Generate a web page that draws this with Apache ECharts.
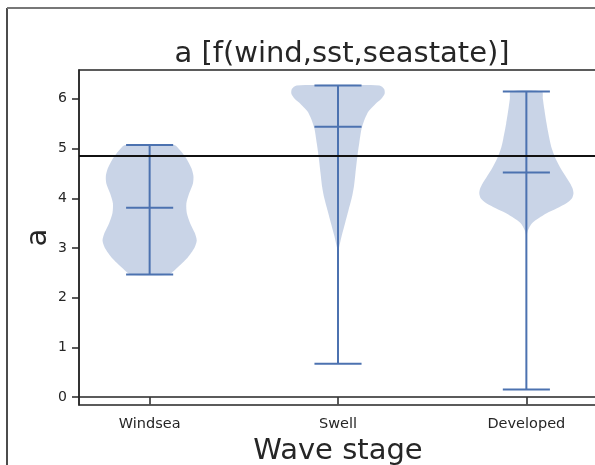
<!DOCTYPE html>
<html>
<head>
<meta charset="utf-8">
<script src="https://cdn.jsdelivr.net/npm/echarts@6/dist/echarts.min.js"></script>
<style>html,body{margin:0;padding:0;background:#fff}#c{width:595px;height:465px}</style>
</head>
<body>
<div id="c"></div>
<script>
// ---- data ----
const categories = ['Windsea', 'Swell', 'Developed'];
const positions = [1, 2, 3];
const mins = [2.47, 0.675, 0.155];
const maxs = [5.07, 6.27, 6.15];
const means = [3.81, 5.44, 4.52];
const refLine = 4.85;
const yTicks = [0, 1, 2, 3, 4, 5, 6];
// density profiles: [value, relative half-width]
const windseaDensity = [[2.47,0.40],[2.6,0.58],[2.8,0.80],[3.0,0.95],[3.15,1.0],[3.3,0.96],[3.5,0.86],[3.7,0.79],[3.9,0.78],[4.1,0.84],[4.3,0.92],[4.45,0.93],[4.6,0.89],[4.8,0.78],[4.95,0.66],[5.07,0.52]];
const swellDensity = [[0.675,0.0],[2.9,0.0],[3.0,0.02],[3.25,0.08],[3.5,0.15],[3.75,0.22],[4.0,0.29],[4.25,0.34],[4.5,0.37],[4.83,0.41],[5.1,0.45],[5.4,0.50],[5.6,0.57],[5.75,0.65],[5.9,0.80],[6.0,0.92],[6.1,0.99],[6.2,0.98],[6.27,0.88]];
const developedDensity = [[0.155,0.0],[3.2,0.0],[3.35,0.03],[3.5,0.12],[3.6,0.26],[3.7,0.43],[3.8,0.65],[3.9,0.85],[4.0,0.97],[4.1,1.0],[4.2,0.98],[4.3,0.93],[4.45,0.83],[4.6,0.73],[4.8,0.62],[5.0,0.54],[5.2,0.49],[5.5,0.43],[5.8,0.38],[6.0,0.35],[6.15,0.33]];
const densities = [windseaDensity, swellDensity, developedDensity];

const violinWidth = 0.5;
const lineColor = '#4c72b0';
const txt = '#262626';
const FONT = 'DejaVu Sans';

const chart = echarts.init(document.getElementById('c'), null, {renderer: 'canvas'});

function bodyRender(params, api) {
  const i = params.dataIndex;
  const pos = positions[i];
  const d = densities[i];
  const right = d.map(p => api.coord([pos + p[1] * violinWidth / 2, p[0]]));
  const left = d.slice().reverse().map(p => api.coord([pos - p[1] * violinWidth / 2, p[0]]));
  return {
    type: 'polygon',
    shape: {points: right.concat(left), smooth: 0.25},
    style: {fill: 'rgba(76,114,176,0.3)', stroke: 'none'}
  };
}

function linesRender(params, api) {
  const i = params.dataIndex;
  const pos = positions[i];
  const half = violinWidth / 4;
  const seg = (x1, y1, x2, y2) => {
    const a = api.coord([x1, y1]), b = api.coord([x2, y2]);
    return {type: 'line', shape: {x1: a[0], y1: a[1], x2: b[0], y2: b[1]},
      style: {stroke: lineColor, lineWidth: 2}};
  };
  return {type: 'group', children: [
    seg(pos, mins[i], pos, maxs[i]),
    seg(pos - half, mins[i], pos + half, mins[i]),
    seg(pos - half, maxs[i], pos + half, maxs[i]),
    seg(pos - half, means[i], pos + half, means[i])
  ]};
}

const option = {
  animation: false,
  title: {
    text: 'a [f(wind,sst,seastate)]',
    left: 337, top: 35, textAlign: 'center',
    textStyle: {fontFamily: FONT, fontSize: 29, fontWeight: 'normal', color: txt}
  },
  grid: {left: 79, top: 70, width: 518, height: 335, show: true, containLabel: false,
    outerBoundsMode: 'none',
    borderColor: txt, borderWidth: 1.5, backgroundColor: '#fff'},
  xAxis: {
    type: 'value', min: 0.625, max: 3.375,
    name: 'Wave stage', nameLocation: 'middle', nameGap: 32, nameMoveOverlap: false,
    nameTextStyle: {fontFamily: FONT, fontSize: 29, color: txt},
    axisLine: {show: true, lineStyle: {color: txt, width: 1.5}},
    axisTick: {show: true, length: 7, lineStyle: {color: txt, width: 1.5}, customValues: positions},
    axisLabel: {customValues: positions, margin: 12, fontFamily: FONT, fontSize: 14.5, color: txt,
      formatter: v => categories[Math.round(v) - 1]},
    splitLine: {show: false}
  },
  yAxis: {
    type: 'value', min: -0.156, max: 6.58,
    name: 'a', nameLocation: 'middle', nameGap: 26, nameRotate: 90, nameMoveOverlap: false,
    nameTextStyle: {fontFamily: FONT, fontSize: 29, color: txt},
    axisLine: {show: true, lineStyle: {color: txt, width: 1.5}},
    axisTick: {show: true, length: 7, lineStyle: {color: txt, width: 1.5}, customValues: yTicks},
    axisLabel: {customValues: yTicks, margin: 12, fontFamily: FONT, fontSize: 14, color: txt},
    splitLine: {show: false}
  },
  graphic: [
    {type: 'line', shape: {x1: 7, y1: 8, x2: 7, y2: 465}, style: {stroke: '#111', lineWidth: 1.5}, z: 100},
    {type: 'line', shape: {x1: 7, y1: 8, x2: 595, y2: 8}, style: {stroke: '#777', lineWidth: 2}, z: 100}
  ],
  series: [
    {type: 'custom', renderItem: bodyRender, data: positions, z: 2, silent: true},
    {type: 'custom', renderItem: linesRender, data: positions, z: 3, silent: true},
    {type: 'line', data: [], z: 5, markLine: {silent: true, symbol: 'none', label: {show: false},
      lineStyle: {color: '#111', width: 1.8, type: 'solid'}, data: [{yAxis: refLine}]}}
  ]
};
chart.setOption(option);
</script>
</body>
</html>
